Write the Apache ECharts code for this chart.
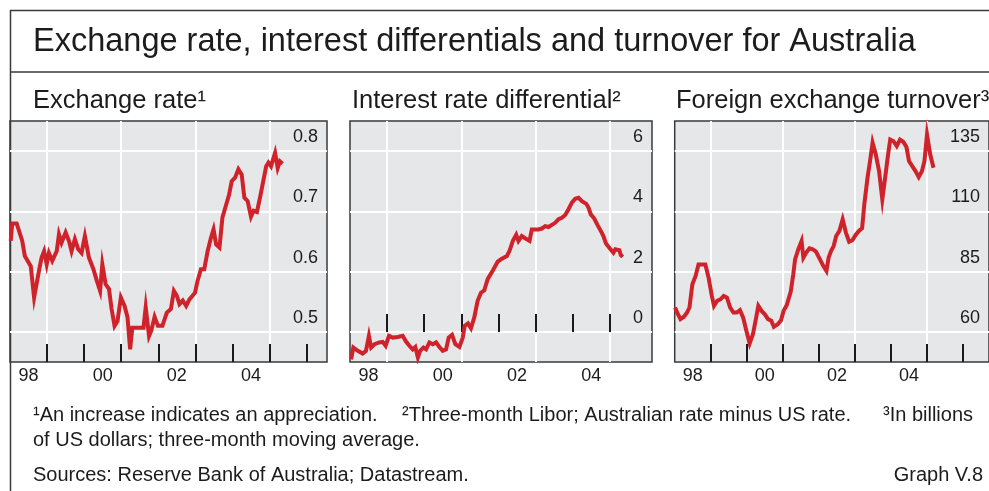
<!DOCTYPE html>
<html>
<head>
<meta charset="utf-8">
<script src="https://cdn.jsdelivr.net/npm/echarts@6/dist/echarts.min.js"></script>
<style>
  html, body { margin: 0; padding: 0; background: #fff; }
  #chart { width: 989px; height: 491px; }
</style>
</head>
<body>
<div id="chart"></div>
<script>
// Exchange rate (US dollars per Australian dollar), dates as decimal years
const fxYears = [1998.02,1998.06,1998.18,1998.33,1998.40,1998.56,1998.65,1998.78,1998.85,1998.92,1998.99,
  1999.05,1999.14,1999.26,1999.32,1999.39,1999.50,1999.59,1999.66,1999.75,1999.84,1999.93,
  2000.02,2000.13,2000.25,2000.34,2000.43,2000.49,2000.58,2000.67,2000.74,2000.82,2000.90,2000.99,
  2001.09,2001.17,2001.24,2001.30,2001.45,2001.60,2001.66,2001.75,2001.81,2001.90,2001.99,
  2002.11,2002.23,2002.34,2002.42,2002.50,2002.57,2002.66,2002.75,2002.84,2002.99,
  2003.06,2003.15,2003.24,2003.33,2003.42,2003.49,2003.56,2003.65,2003.73,2003.82,2003.91,2003.98,
  2004.07,2004.16,2004.25,2004.32,2004.41,2004.50,2004.57,2004.66,2004.75,2004.84,2004.91,2004.97,
  2005.04,2005.15,2005.22,2005.28,2005.35];
const fxValues = [0.651,0.680,0.680,0.651,0.626,0.609,0.557,0.601,0.623,0.634,0.612,
  0.631,0.618,0.634,0.662,0.648,0.665,0.651,0.634,0.654,0.637,0.631,
  0.659,0.623,0.604,0.585,0.568,0.612,0.579,0.571,0.538,0.510,0.518,0.557,
  0.543,0.524,0.471,0.507,0.507,0.507,0.541,0.493,0.502,0.525,0.510,
  0.510,0.532,0.538,0.568,0.560,0.546,0.552,0.543,0.554,0.565,
  0.585,0.604,0.604,0.634,0.656,0.670,0.645,0.640,0.690,0.709,0.728,0.750,
  0.756,0.770,0.761,0.723,0.717,0.691,0.701,0.699,0.725,0.753,0.775,0.781,
  0.775,0.797,0.772,0.783,0.779];

// Three-month Libor, Australian rate minus US rate (percentage points)
const irdYears = [1998.03,1998.09,1998.21,1998.34,1998.43,1998.51,1998.57,1998.66,1998.79,1998.88,1998.96,
  1999.05,1999.15,1999.29,1999.42,1999.51,1999.60,1999.69,1999.76,1999.83,1999.89,1999.98,
  2000.05,2000.14,2000.23,2000.32,2000.41,2000.50,2000.59,2000.66,2000.75,2000.84,2000.95,
  2001.04,2001.09,2001.18,2001.26,2001.35,2001.44,2001.53,2001.62,2001.71,2001.85,2001.98,
  2002.07,2002.23,2002.30,2002.39,2002.48,2002.54,2002.63,2002.72,2002.84,2002.90,2002.99,
  2003.08,2003.17,2003.26,2003.35,2003.44,2003.53,2003.62,2003.71,2003.80,2003.89,2003.98,
  2004.07,2004.16,2004.25,2004.37,2004.43,2004.49,2004.58,2004.67,2004.76,2004.83,2004.90,
  2005.01,2005.10,2005.15,2005.19,2005.26,2005.30,2005.35];
const irdValues = [-0.91,-0.52,-0.63,-0.72,-0.63,-0.13,-0.52,-0.41,-0.35,-0.33,-0.46,
  -0.13,-0.19,-0.17,-0.13,-0.32,-0.46,-0.58,-0.50,-0.85,-0.63,-0.52,
  -0.58,-0.35,-0.41,-0.35,-0.50,-0.63,-0.58,-0.19,-0.10,-0.41,-0.50,
  -0.19,0.20,0.28,0.12,0.48,1.03,1.30,1.38,1.75,2.04,2.33,
  2.41,2.52,2.69,3.02,3.22,3.02,3.18,3.11,3.02,3.40,3.40,
  3.40,3.43,3.51,3.48,3.55,3.62,3.74,3.79,3.88,4.07,4.29,
  4.42,4.45,4.34,4.25,4.12,3.90,3.77,3.55,3.35,3.18,2.93,
  2.76,2.63,2.74,2.80,2.71,2.55,2.49];

// Foreign exchange turnover, billions of US dollars, three-month moving average
const turnYears = [1998.01,1998.07,1998.16,1998.25,1998.34,1998.41,1998.49,1998.58,1998.66,1998.75,1998.85,1998.94,
  1999.03,1999.09,1999.18,1999.27,1999.36,1999.45,1999.54,1999.63,1999.72,1999.81,1999.90,1999.99,
  2000.08,2000.17,2000.26,2000.32,2000.41,2000.50,2000.59,2000.68,2000.75,2000.86,2000.95,
  2001.02,2001.11,2001.22,2001.29,2001.34,2001.43,2001.52,2001.57,2001.65,2001.74,2001.83,2001.92,
  2002.03,2002.12,2002.21,2002.27,2002.34,2002.41,2002.48,2002.57,2002.66,2002.75,2002.84,2002.93,
  2003.02,2003.11,2003.20,2003.26,2003.35,2003.42,2003.49,2003.58,2003.67,2003.76,2003.85,2003.92,2003.98,
  2004.07,2004.16,2004.25,2004.34,2004.43,2004.50,2004.59,2004.68,2004.77,2004.86,2004.93,
  2005.00,2005.09,2005.18];
const turnValues = [70.1,68.0,65.3,66.2,68.0,70.1,79.8,83.2,88.0,88.0,88.0,82.5,
  74.9,70.8,72.9,73.5,74.9,74.2,70.1,68.0,68.0,69.0,65.9,60.4,
  55.2,59.0,65.9,70.8,68.7,67.3,65.3,64.6,62.1,63.2,64.8,
  68.7,71.2,76.7,83.9,90.1,94.3,97.7,90.8,92.9,94.7,94.3,93.3,
  90.1,87.4,85.3,90.8,93.6,95.6,99.8,101.9,106.7,101.2,97.4,98.0,
  100.2,101.9,103.0,112.9,124.0,130.9,138.5,133.6,126.7,115.0,125.3,133.6,139.8,
  139.1,137.1,139.8,138.9,136.7,130.9,128.8,126.7,124.2,126.7,130.9,
  141.9,133.6,128.1];

// Axis ticks, vertical grid lines and year labels
const tickYears = [1999, 2000, 2001, 2002, 2003, 2004, 2005, 2006];
const gridYears = [1999, 2001, 2003, 2005];
const yearLabelAt = [1998.5, 2000.5, 2002.5, 2004.5];
const yearLabels = ['98', '00', '02', '04'];

// Labelled grid values of each value axis
const fxGrid = [0.5, 0.6, 0.7, 0.8];
const irdGrid = [0, 2, 4, 6];
const turnGrid = [60, 85, 110, 135];

const FONT = '"Liberation Sans", Arial, Helvetica, sans-serif';
const RED = '#cf222b';
const INK = '#1c1c1c';
const FRAME = '#3a3a3a';

const panels = [
  { left: 10,    width: 317, xMax: 2006.55, lastTick: 2006, yMin: 0.45, yMax: 0.85, grid: fxGrid,
    years: fxYears, values: fxValues, fmt: v => v.toFixed(1) },
  { left: 350,   width: 302, xMax: 2006.14, lastTick: 2005, yMin: -1, yMax: 7, grid: irdGrid,
    years: irdYears, values: irdValues, fmt: v => String(v) },
  { left: 674.7, width: 323, xMax: 2006.72, lastTick: 2006, yMin: 47.5, yMax: 147.5, grid: turnGrid,
    years: turnYears, values: turnValues, fmt: v => String(v) }
];

const grids = [], xAxes = [], yAxes = [], series = [];
panels.forEach((p, k) => {
  grids.push({
    left: p.left, top: 121, width: p.width, height: 241,
    show: true, backgroundColor: '#e6e7e8', borderColor: FRAME, borderWidth: 1.5
  });
  // tick marks and year labels
  xAxes.push({
    type: 'value', gridIndex: k, position: 'bottom', min: 1998, max: p.xMax,
    axisLine: { show: false },
    axisTick: { show: true, inside: true, length: 18,
      customValues: tickYears.filter(t => t <= p.lastTick),
      lineStyle: { color: '#1a1a1a', width: 2 } },
    axisLabel: { show: true, customValues: yearLabelAt, margin: 5,
      fontFamily: FONT, fontSize: 18, color: INK,
      formatter: v => yearLabels[yearLabelAt.indexOf(v)] || '' },
    splitLine: { show: false }
  });
  // vertical grid lines every other year
  xAxes.push({
    type: 'value', gridIndex: k, position: 'top', min: 1998, max: p.xMax,
    axisLine: { show: false },
    axisTick: { show: false, customValues: gridYears },
    axisLabel: { show: false, customValues: gridYears },
    splitLine: { show: true, lineStyle: { color: '#ffffff', width: 2 } }
  });
  yAxes.push({
    type: 'value', gridIndex: k, position: 'right', min: p.yMin, max: p.yMax,
    axisLine: { show: false },
    axisTick: { show: false, customValues: p.grid },
    axisLabel: { show: true, inside: true, customValues: p.grid, margin: 9,
      fontFamily: FONT, fontSize: 18, color: INK,
      verticalAlign: 'bottom', padding: [0, 0, 5, 0], formatter: p.fmt },
    splitLine: { show: true, lineStyle: { color: '#ffffff', width: 2 } }
  });
  series.push({
    type: 'line', xAxisIndex: 2 * k, yAxisIndex: k,
    data: p.years.map((y, i) => [y, p.values[i]]),
    showSymbol: false, symbol: 'none', animation: false,
    lineStyle: { color: RED, width: 4, join: 'miter' }
  });
});

const textStyle = (size) => ({ fontFamily: FONT, fontSize: size, fill: INK });

const option = {
  animation: false,
  grid: grids,
  xAxis: xAxes,
  yAxis: yAxes,
  series: series,
  graphic: [
    { type: 'line', shape: { x1: 10, y1: 10.5, x2: 989, y2: 10.5 }, style: { stroke: FRAME, lineWidth: 1.5 } },
    { type: 'line', shape: { x1: 10, y1: 72, x2: 989, y2: 72 }, style: { stroke: FRAME, lineWidth: 1.5 } },
    { type: 'line', shape: { x1: 10.5, y1: 10, x2: 10.5, y2: 491 }, style: { stroke: FRAME, lineWidth: 1.5 } },
    { type: 'text', left: 33, top: 26,
      style: Object.assign(textStyle(32.5), { text: 'Exchange rate, interest differentials and turnover for Australia' }) },
    { type: 'text', left: 33, top: 88,
      style: Object.assign(textStyle(25.5), { text: 'Exchange rate¹' }) },
    { type: 'text', left: 352, top: 88,
      style: Object.assign(textStyle(25.5), { text: 'Interest rate differential²' }) },
    { type: 'text', left: 676, top: 88,
      style: Object.assign(textStyle(25.5), { text: 'Foreign exchange turnover³' }) },
    { type: 'text', left: 33, top: 405,
      style: Object.assign(textStyle(20), { text: '¹An increase indicates an appreciation.' }) },
    { type: 'text', left: 402, top: 405,
      style: Object.assign(textStyle(20), { text: '²Three-month Libor; Australian rate minus US rate.' }) },
    { type: 'text', left: 883, top: 405,
      style: Object.assign(textStyle(20), { text: '³In billions' }) },
    { type: 'text', left: 33, top: 430,
      style: Object.assign(textStyle(20), { text: 'of US dollars; three-month moving average.' }) },
    { type: 'text', left: 33, top: 465,
      style: Object.assign(textStyle(20), { text: 'Sources: Reserve Bank of Australia; Datastream.' }) },
    { type: 'text', right: 6, top: 465,
      style: Object.assign(textStyle(20), { text: 'Graph V.8' }) }
  ]
};

const chart = echarts.init(document.getElementById('chart'), null, { renderer: 'canvas' });
chart.setOption(option);
</script>
</body>
</html>
